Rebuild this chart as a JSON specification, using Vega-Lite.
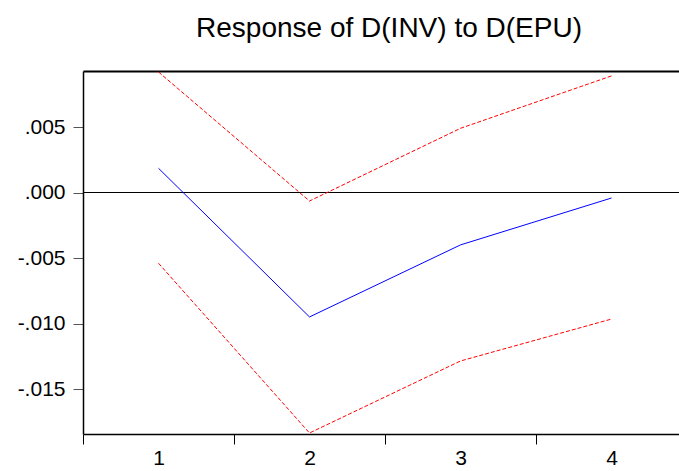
{
  "$schema": "https://vega.github.io/schema/vega-lite/v6.json",
  "autosize": {"type": "none"},
  "width": 596,
  "height": 363,
  "padding": {"left": 83, "top": 71, "right": 0, "bottom": 37},
  "background": "white",
  "config": {
    "view": {"stroke": null},
    "font": "Liberation Sans",
    "axis": {"grid": false, "labelFont": "Liberation Sans", "labelFontSize": 21, "labelColor": "black", "domainColor": "black", "tickColor": "black", "domainWidth": 1.5, "tickSize": 10}
  },
  "title": {"text": "Response of D(INV) to D(EPU)", "font": "Liberation Sans", "fontSize": 28, "fontWeight": "normal", "color": "black", "anchor": "middle", "offset": 27, "dx": 8},
  "data": {"values": [
    {"period": 1, "series": "irf", "value": 0.00185},
    {"period": 2, "series": "irf", "value": -0.0095},
    {"period": 3, "series": "irf", "value": -0.0040},
    {"period": 4, "series": "irf", "value": -0.00042},
    {"period": 1, "series": "upper", "value": 0.0092},
    {"period": 2, "series": "upper", "value": -0.00065},
    {"period": 3, "series": "upper", "value": 0.0049},
    {"period": 4, "series": "upper", "value": 0.0089},
    {"period": 1, "series": "lower", "value": -0.0054},
    {"period": 2, "series": "lower", "value": -0.01836},
    {"period": 3, "series": "lower", "value": -0.01286},
    {"period": 4, "series": "lower", "value": -0.00966}
  ]},
  "layer": [
    {
      "mark": {"type": "rule", "color": "black", "strokeWidth": 1.2},
      "encoding": {"y": {"datum": 0, "type": "quantitative"}}
    },
    {
      "transform": [{"filter": "datum.series === 'irf'"}],
      "mark": {"type": "line", "color": "#0000FF", "strokeWidth": 1},
      "encoding": {
        "x": {"field": "period", "type": "quantitative", "scale": {"domain": [0.5, 4.447], "nice": false, "zero": false},
          "axis": {"orient": "bottom", "title": null, "values": [0.5, 1.5, 2.5, 3.5], "labelExpr": "format(datum.value + 0.5, 'd')", "labelOffset": 75.5, "labelPadding": 3, "labelOverlap": false, "labelBound": false, "labelFlush": false}},
        "y": {"field": "value", "type": "quantitative", "scale": {"domain": [-0.018435, 0.009275], "nice": false, "zero": false},
          "axis": {"title": null, "values": [-0.015, -0.01, -0.005, 0, 0.005], "labelExpr": "replace(replace(format(datum.value, '.3f'), '0.', '.'), '\u2212', '-')", "labelPadding": 8, "tickColor": "#555555"}}
      }
    },
    {
      "transform": [{"filter": "datum.series !== 'irf'"}],
      "mark": {"type": "line", "color": "#FF0000", "strokeWidth": 1, "strokeDash": [4, 2]},
      "encoding": {
        "x": {"field": "period", "type": "quantitative", "axis": {"orient": "top", "title": null, "ticks": false, "labels": false, "domainWidth": 2}},
        "y": {"field": "value", "type": "quantitative"},
        "detail": {"field": "series"}
      }
    }
  ],
  "resolve": {"axis": {"x": "independent"}}
}
